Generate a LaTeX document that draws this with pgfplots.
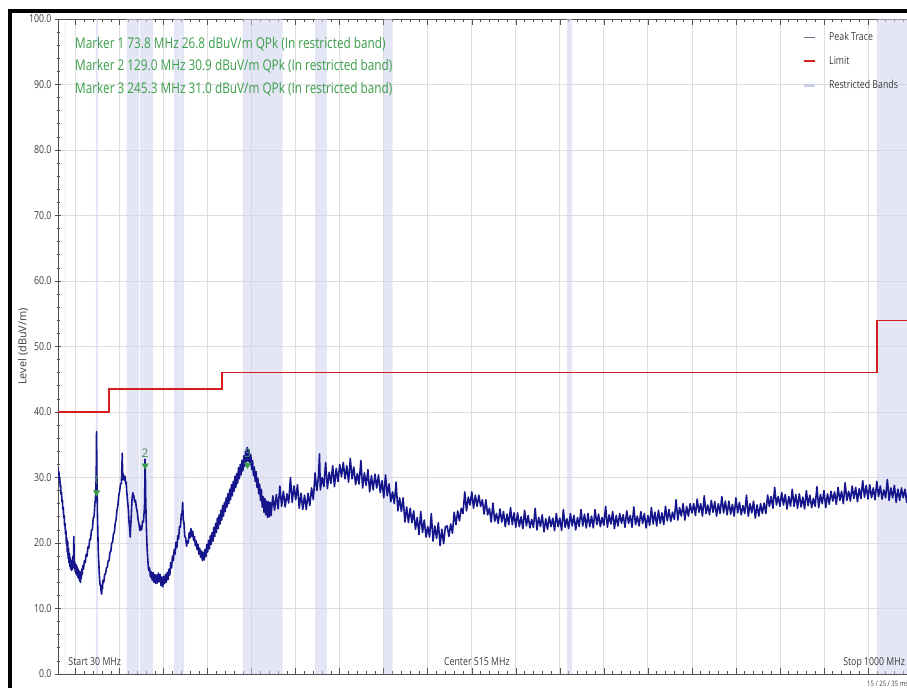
\documentclass[border=0pt]{standalone}
\usepackage{fontspec}
\setmainfont{Open Sans}[FakeStretch=0.8]
\newfontfamily\labelfont{Open Sans}
\usepackage{pgfplots}
\pgfplotsset{compat=1.18}

\definecolor{trace}{RGB}{22,22,140}
\definecolor{peakgray}{RGB}{110,115,140}
\definecolor{limitred}{RGB}{212,30,30}
\definecolor{band}{RGB}{206,210,238}
\definecolor{bandlegend}{RGB}{200,204,228}
\definecolor{mkgreen}{RGB}{58,158,72}
\definecolor{numgreen}{RGB}{70,140,105}
\definecolor{axisgray}{RGB}{80,80,80}
\definecolor{ticktext}{RGB}{60,60,60}
\definecolor{gridgray}{RGB}{222,222,222}

\begin{document}
\begin{tikzpicture}[x=1bp,y=1bp]
\useasboundingbox (0,0) rectangle (907,688);
\begin{scope}
\clip (0,0) rectangle (907,688);
\begin{axis}[
  at={(58bp,14bp)}, anchor=south west,
  scale only axis, width=854bp, height=655bp,
  xmin=30, xmax=1000, ymin=0, ymax=100,
  xtick={50,100,...,1000}, xticklabels={}, minor x tick num=4,
  ytick={0,10,...,100}, minor y tick num=4,
  xtick align=inside, ytick align=center,
  major tick length=6bp, minor tick length=3bp,
  tick style={color=axisgray, line width=0.6bp},
  axis line style={color=axisgray, line width=0.8bp},
  xmajorgrids, ymajorgrids,
  grid style={color=gridgray, line width=0.8bp},
  yticklabel style={font=\fontsize{11}{13}\selectfont, text=ticktext,
    /pgf/number format/.cd, fixed, fixed zerofill, precision=1, assume math mode=true},
  ylabel={Level (dBuV/m)},
  ylabel style={font=\labelfont\fontsize{11}{13}\selectfont, text=ticktext,
    at={(axis description cs:-0.041,0.5)}, anchor=center},
  legend image code/.code={\draw[#1] (0bp,0bp) -- (11bp,0bp);},
  legend cell align=left,
  legend style={at={(axis description cs:0.8712,0.980)}, anchor=north west,
    draw=none, fill=none, inner sep=0pt,
    font=\fontsize{11}{13}\selectfont, text=ticktext,
    row sep=14.5bp, nodes={inner sep=0pt},
    /tikz/every odd column/.append style={column sep=13bp}},
]

% restricted bands (FCC 15.205) between 30 MHz and 1 GHz
\addplot[const plot, fill=band, fill opacity=0.55, draw=none, forget plot] coordinates {
(30,0)(37.5,100)(38.25,0)(73,100)(74.6,0)(74.8,100)(75.2,0)(108,100)(121.94,0)
(123,100)(138,0)(149.9,100)(150.05,0)(156.52475,100)(156.52525,0)(156.7,100)(156.9,0)
(162.0125,100)(167.17,0)(167.72,100)(173.2,0)(240,100)(285,0)(322,100)(335.4,0)
(399.9,100)(410,0)(608,100)(614,0)(960,100)(1000,100)} \closedcycle;

% peak trace
\addplot[trace, line width=1.6bp, line join=round, forget plot] coordinates {
(30,31.5)(30.5,30.4)(31,30.9)(31.5,29.6)(32,30.0)(32.5,28.6)(33,28.9)(33.5,27.4)(34,27.8)(34.5,26.3)
(35,26.6)(35.5,25.1)(36,25.4)(36.5,23.9)(37,24.2)(37.5,22.6)(38,23.0)(38.5,21.4)(39,21.9)(39.5,19.9)
(40,20.8)(40.5,18.6)(41,20.3)(41.5,17.6)(42,19.2)(42.5,17.0)(43,18.4)(43.5,16.4)(44,17.8)(44.5,16.0)
(45,17.4)(45.5,15.8)(46,17.2)(46.5,16.0)(47,18.0)(47.5,16.5)(48,21.0)(48.5,16.2)(49,17.1)(49.5,15.6)
(50,16.8)(50.5,15.3)(51,16.6)(51.5,15.1)(52,16.3)(52.5,14.8)(53,16.0)(53.5,14.6)(54,15.7)(54.5,14.2)
(55,15.4)(55.5,14.0)(56,15.6)(56.5,14.6)(57,16.0)(57.5,15.2)(58,16.5)(59,16.0)(60,17.3)(61,17.0)
(62,18.3)(63,18.0)(64,19.4)(65,19.2)(66,20.6)(67,20.5)(68,22.0)(69,22.0)(70,23.8)(71,24.0)
(72,26.2)(72.5,26.5)(73,28.5)(73.4,30.0)(73.8,37.0)(74.1,31.5)(74.4,28.0)(74.8,24.5)(75.2,22.0)(75.6,19.5)
(76,18.0)(76.5,16.5)(77,15.0)(77.5,14.0)(78,13.5)(78.5,13.6)(79,12.6)(79.6,12.2)(80,13.2)(80.5,13.0)
(81,14.3)(82,14.0)(83,15.2)(84,15.3)(85,16.2)(86,16.3)(87,17.3)(88,17.3)(89,18.6)(90,18.7)
(91,20.0)(92,20.1)(93,21.4)(94,21.6)(95,23.0)(96,23.6)(97,25.0)(98,25.7)(99,27.2)(100,27.9)
(101,29.0)(102,29.1)(103,33.7)(103.5,29.7)(104,30.6)(105,29.6)(106,30.2)(107,29.0)(107.5,29.3)(108,28.0)
(109,26.5)(110,25.0)(110.5,23.5)(111,22.8)(111.5,22.0)(112,20.9)(112.5,22.4)(113,23.5)(113.5,25.0)(114,26.5)
(114.5,27.2)(115,27.7)(115.5,27.0)(116,27.3)(117,26.3)(118,26.5)(119,25.4)(120,24.8)(121,23.5)(122,22.9)
(123,21.9)(124,22.6)(125,22.0)(126,23.3)(127,23.2)(128,25.0)(128.5,26.5)(128.8,32.8)(129.2,31.0)(129.6,27.0)
(130,24.5)(130.5,22.0)(131,20.0)(131.5,18.5)(132,17.5)(132.5,16.5)(133,15.8)(134,16.2)(135,14.8)(136,15.6)
(137,14.3)(138,15.5)(139,14.0)(140,15.2)(141,13.8)(142,15.1)(143,13.9)(144,15.4)(145,14.1)(146,15.2)
(147,13.5)(148,14.8)(149,13.3)(150,14.9)(151,13.8)(152,15.2)(153,14.0)(154,15.5)(155,14.4)(156,16.0)
(157,15.1)(158,17.0)(159,16.2)(160,18.0)(161,17.3)(162,19.0)(163,18.3)(164,20.1)(165,19.3)(166,21.1)
(167,20.6)(168,22.5)(169,22.4)(170,24.3)(171,24.6)(171.6,26.2)(172.3,23.5)(173,23.2)(174,21.0)(175,20.8)
(176,19.5)(177,20.3)(178,20.0)(179,21.6)(180,20.8)(181,22.2)(182,21.0)(183,21.8)(184,20.4)(185,21.0)
(186,19.6)(187,20.3)(188,19.0)(189,19.8)(190,18.3)(191,19.2)(192,17.8)(193,18.8)(194,17.3)(195,18.6)
(196,17.4)(197,19.0)(198,17.9)(199,19.8)
(200,18.6)(201,20.4)(202,19.1)(203,21.1)(204,19.8)(205,21.6)(206,20.3)(207,22.4)(208,21.0)(209,23.0)
(210,21.6)(211,23.8)(212,22.2)(213,24.3)(214,22.9)(215,25.0)(216,23.5)(217,25.7)(218,24.1)(219,26.2)
(220,24.8)(221,26.9)(222,25.5)(223,27.5)(224,26.0)(225,28.2)(226,26.6)(227,28.9)(228,27.2)(229,29.4)
(230,27.9)(231,30.2)(232,28.5)(233,30.6)(234,29.1)(235,31.5)(236,29.8)(237,32.0)(238,30.4)(239,32.6)
(240,31.0)(241,33.3)(242,31.7)(243,34.0)(244,32.4)(245,34.6)(246,32.5)(247,34.2)(248,32.0)(249,33.5)
(250,31.2)(251,32.6)(252,30.3)(253,31.6)(254,29.4)(255,30.9)(256,28.5)(257,29.9)(258,27.5)(259,29.0)
(260,26.5)(261,28.2)(262,25.5)(263,27.1)(264,24.7)(265,26.8)(266,24.3)(267,26.4)(268,23.9)(269,26.3)
(270,24.0)(271,26.2)(272,24.2)
(274,27.2)(276,25.0)(278,27.4)(280,25.2)(282,28.7)(284,25.6)(286,27.9)(288,25.5)(290,27.5)(292,26.1)
(294,30.0)(296,26.2)(298,28.7)(300,26.6)(302,28.9)(304,25.3)(306,27.6)(308,25.1)(310,27.3)(312,25.1)
(314,27.6)(316,25.7)(318,28.4)(320,26.6)(322,30.7)(324,28.0)(326,30.4)(327,33.6)(328,28.1)(330,30.0)
(332,28.6)(334,32.3)(336,28.3)(338,30.8)(340,29.1)(342,31.8)(344,28.6)(346,31.4)(348,29.4)(350,32.0)
(352,30.1)(354,32.3)(356,29.8)(358,31.8)(360,29.3)(362,32.9)(364,29.8)(366,31.6)(368,28.9)(370,30.6)
(372,29.0)(374,32.6)(376,28.4)(378,30.7)(380,28.8)(382,31.2)(384,27.8)(386,30.3)(388,28.1)(390,30.5)
(392,28.4)(394,30.4)(396,27.7)(398,29.5)(400,26.9)(402,30.4)(404,27.2)(406,29.0)(408,26.3)(410,27.8)
(412,26.0)(414,29.3)(416,24.9)(418,26.9)(420,24.8)(422,26.9)(424,23.2)(426,25.5)(428,23.1)(430,25.3)
(432,23.1)(434,24.9)(436,22.1)(438,23.9)(440,21.3)(442,24.8)(444,21.6)(446,23.5)(448,20.9)(450,22.5)
(452,20.9)(454,24.5)(456,20.3)(458,22.6)(460,20.7)(462,23.1)(464,19.6)(466,22.1)(468,19.9)(470,22.5)
(472,22.6)(474,21.0)(476,22.9)(478,21.5)(480,24.7)(482,22.8)(484,24.9)(486,23.4)(488,25.3)(490,24.5)
(492,27.8)(494,24.9)(496,27.0)(498,25.8)(500,27.8)(502,25.3)(504,27.3)(506,25.6)(508,27.3)(510,25.6)
(512,26.6)(514,24.4)(516,26.6)(518,24.3)(520,25.3)(522,23.2)(524,26.1)(526,23.3)(528,24.5)(530,23.0)
(532,25.2)(534,23.2)(536,24.8)(538,22.5)(540,24.4)(542,22.8)(544,25.4)(546,22.8)(548,24.6)(550,22.4)
(552,24.6)(554,22.5)(556,24.0)(558,22.2)(560,25.0)(562,22.6)(564,24.2)(566,22.3)(568,23.6)(570,22.4)
(572,25.3)(574,22.0)(576,23.9)(578,22.5)(580,24.3)(582,21.7)(584,23.7)(586,22.1)(588,24.0)(590,22.5)
(592,23.8)(594,21.9)(596,24.5)(598,22.5)(600,23.8)(602,21.9)(604,25.1)(606,22.4)(608,23.7)(610,22.2)
(612,24.5)(614,22.6)(616,24.2)(618,22.0)(620,23.9)(622,22.5)(624,25.1)(626,22.6)(628,24.4)(630,22.3)
(632,24.5)(634,22.5)(636,24.1)(638,22.3)(640,25.1)(642,22.8)(644,24.4)(646,22.5)(648,23.9)(650,22.7)
(652,25.6)(654,22.4)(656,24.3)(658,22.9)(660,24.8)(662,22.2)(664,24.2)(666,22.6)(668,24.5)(670,23.0)
(672,24.3)(674,22.4)(676,24.9)(678,23.0)(680,24.2)(682,22.4)(684,25.5)(686,22.8)(688,24.1)(690,22.6)
(692,24.8)(694,23.0)(696,24.5)(698,22.3)(700,24.2)(702,22.7)(704,25.4)(706,22.9)(708,24.7)(710,22.6)
(712,25.0)(714,23.0)(716,24.6)(718,22.8)(720,25.6)(722,23.4)(724,25.1)(726,23.3)(728,24.7)(730,23.6)
(732,26.6)(734,23.5)(736,25.4)(738,24.1)(740,26.0)(742,23.5)(744,25.6)(746,24.1)(748,26.0)(750,24.6)
(752,26.0)(754,24.2)(756,26.7)(758,24.7)(760,26.0)(762,24.1)(764,27.2)(766,24.5)(768,25.8)(770,24.3)
(772,26.5)(774,24.7)(776,26.3)(778,24.1)(780,26.0)(782,24.5)(784,27.1)(786,24.6)(788,26.4)(790,24.3)
(792,26.4)(794,24.4)(796,25.9)(798,24.1)(800,26.9)(802,24.6)(804,26.2)(806,24.3)(808,25.7)(810,24.5)
(812,27.3)(814,24.1)(816,26.0)(818,24.6)(820,26.4)(822,23.8)(824,25.8)(826,24.1)(828,26.0)(830,24.5)
(832,26.1)(834,24.5)(836,27.3)(838,25.6)(840,27.1)(842,25.3)(844,28.5)(846,25.8)(848,27.1)(850,25.6)
(852,27.7)(854,25.8)(856,27.4)(858,25.2)(860,27.1)(862,25.6)(864,28.2)(866,25.6)(868,27.4)(870,25.3)
(872,27.5)(874,25.5)(876,27.0)(878,25.2)(880,28.0)(882,25.7)(884,27.3)(886,25.4)(888,26.8)(890,25.6)
(892,28.6)(894,25.4)(896,27.4)(898,26.0)(900,28.0)(902,25.4)(904,27.5)(906,25.9)(908,27.9)(910,26.4)
(912,27.8)(914,25.9)(916,28.5)(918,26.5)(920,27.9)(922,26.0)(924,29.2)(926,26.5)(928,27.9)(930,26.4)
(932,28.7)(934,26.8)(936,28.5)(938,26.3)(940,28.3)(942,26.8)(944,29.5)(946,27.0)(948,28.8)(950,26.7)
(952,28.9)(954,26.9)(956,28.4)(958,26.6)(960,29.4)(962,27.1)(964,28.7)(966,26.7)(968,28.1)(970,26.9)
(972,29.7)(974,26.5)(976,28.4)(978,26.9)(980,28.8)(982,26.2)(984,28.2)(986,26.5)(988,28.4)(990,26.9)
(992,28.2)(994,26.2)(996,28.7)(998,26.7)(1000,28.0)};

% limit line
\addplot[const plot, limitred, line width=1.5bp, forget plot] coordinates {
(30,40)(88,43.5)(216,46)(960,54)(1000,54)};

% quasi-peak markers
\addplot[only marks, mark=triangle*, mark size=3.6bp, color=mkgreen,
  mark options={yshift=6bp, rotate=180},
  point meta=explicit symbolic, nodes near coords,
  nodes near coords style={font=\labelfont\fontsize{12}{14}\selectfont, text=numgreen, anchor=center, yshift=12bp},
  forget plot] coordinates {(73.8,26.8)[1] (129.0,30.9)[2] (245.3,31.0)[3]};

\addlegendimage{draw=peakgray, line width=1bp}
\addlegendentry{Peak Trace}
\addlegendimage{draw=limitred, line width=2bp}
\addlegendentry{Limit}
\addlegendimage{draw=bandlegend, line width=3bp}
\addlegendentry{Restricted Bands}

\node[anchor=base west, inner sep=0pt, font=\fontsize{14.8}{18}\selectfont, text=mkgreen] at (axis cs:49.3,95.5)
  {Marker 1 73.8 MHz 26.8 dBuV/m QPk (In restricted band)};
\node[anchor=base west, inner sep=0pt, font=\fontsize{14.8}{18}\selectfont, text=mkgreen] at (axis cs:49.3,92.1)
  {Marker 2 129.0 MHz 30.9 dBuV/m QPk (In restricted band)};
\node[anchor=base west, inner sep=0pt, font=\fontsize{14.8}{18}\selectfont, text=mkgreen] at (axis cs:49.3,88.65)
  {Marker 3 245.3 MHz 31.0 dBuV/m QPk (In restricted band)};

\node[anchor=base west, font=\fontsize{11}{13}\selectfont, text=ticktext] at (axis cs:37.9,1.37) {Start 30 MHz};
\node[anchor=base, font=\fontsize{11}{13}\selectfont, text=ticktext] at (axis cs:505.8,1.37) {Center 515 MHz};
\node[anchor=base east, font=\fontsize{11}{13}\selectfont, text=ticktext] at (axis cs:996,1.37) {Stop 1000 MHz};
\end{axis}
\node[anchor=base west, inner sep=0pt, font=\fontsize{7.5}{9}\selectfont, text=ticktext] at (867,1.5) {15 / 25 / 35 ms};
\draw[line width=3.4bp, black] (10,-10) -- (10,677) -- (930,677);
\end{scope}
\end{tikzpicture}
\end{document}
